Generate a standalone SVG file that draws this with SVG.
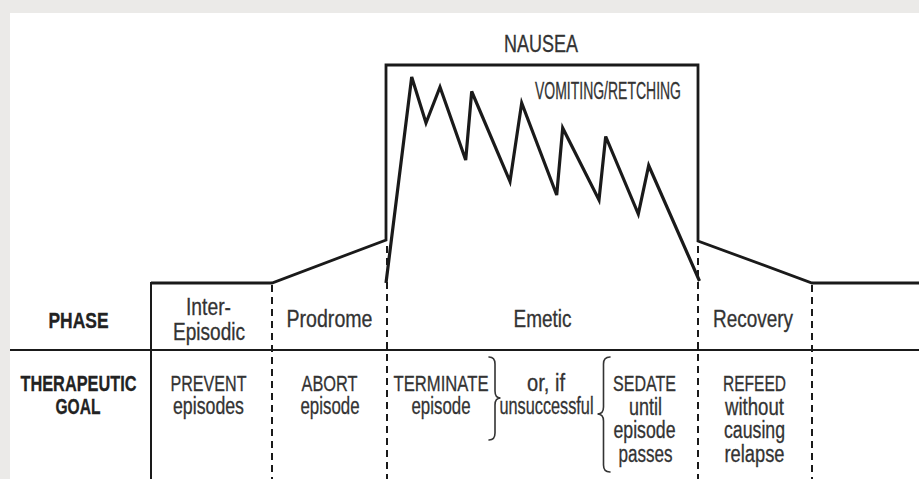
<svg xmlns="http://www.w3.org/2000/svg" width="919" height="479" viewBox="0 0 919 479">
<style>
.t{font-family:"Liberation Sans",Arial,sans-serif;font-size:23px;fill:#333;stroke:#333;stroke-width:0.3;text-anchor:middle}
.u{font-size:22px}
.b{font-weight:bold;fill:#222;stroke:#222;font-size:22px}
.ln{fill:none;stroke:#1a1a1a;stroke-linejoin:miter;stroke-linecap:butt}
.dash{fill:none;stroke:#1a1a1a;stroke-width:2;stroke-dasharray:7 5}
.br{fill:none;stroke:#333;stroke-width:1.6;stroke-linecap:round}
</style>
<rect x="0" y="0" width="919" height="479" fill="#ebeae8"/>
<rect x="10" y="13" width="909" height="466" fill="#ffffff"/>

<g id="connectors">
  <polyline class="ln" stroke-width="2.8" points="151,283 272,283 386,240 386,65 698,65 698,241 812,283 919,283"/>
  <line class="ln" stroke-width="2" x1="151" y1="282" x2="151" y2="479"/>
  <line class="ln" stroke-width="2" x1="10" y1="350" x2="919" y2="350"/>
  <line class="dash" x1="272" y1="285" x2="272" y2="479"/>
  <line class="dash" x1="387" y1="246" x2="387" y2="479"/>
  <line class="dash" x1="698" y1="246" x2="698" y2="479"/>
  <line class="dash" x1="812" y1="285" x2="812" y2="479"/>
  <polyline id="vomiting-curve" class="ln" stroke-width="3.2" points="386,283 411.7,77 426,123 440,87 465.7,160 471.7,91.5 510,181.5 521.7,103 556.7,195 562.7,128 599,200 605.7,136.5 638.3,214 648.7,165.5 699.5,281"/>
  <path class="br" d="M489,357 Q495,357 495,364 L495,391 Q495,398 500.5,398 Q495,398 495,405 L495,433 Q495,440 489,440"/>
  <path class="br" d="M610,357 Q603.5,357 603.5,364 L603.5,407 Q603.5,414 597.5,414 Q603.5,414 603.5,421 L603.5,465 Q603.5,472 610,472"/>
</g>

<g id="nausea">
  <text class="t" x="541" y="52" font-size="22" textLength="74" lengthAdjust="spacingAndGlyphs">NAUSEA</text>
</g>
<g id="vomiting">
  <text class="t" x="608" y="98.5" font-size="17.5" textLength="146" lengthAdjust="spacingAndGlyphs">VOMITING/RETCHING</text>
</g>

<g id="row-labels">
  <text class="t b" x="78.5" y="327.5" textLength="60" lengthAdjust="spacingAndGlyphs">PHASE</text>
  <text class="t b" x="78.5" y="390.5" textLength="116" lengthAdjust="spacingAndGlyphs">THERAPEUTIC</text>
  <text class="t b" x="78" y="414" textLength="45" lengthAdjust="spacingAndGlyphs">GOAL</text>
</g>

<g id="inter-episodic">
  <text class="t" x="208.5" y="315" textLength="45" lengthAdjust="spacingAndGlyphs">Inter-</text>
  <text class="t" x="209" y="340" textLength="72" lengthAdjust="spacingAndGlyphs">Episodic</text>
  <text class="t u" x="208.5" y="390.5" textLength="76" lengthAdjust="spacingAndGlyphs">PREVENT</text>
  <text class="t" x="208.5" y="414" textLength="71" lengthAdjust="spacingAndGlyphs">episodes</text>
</g>

<g id="prodrome">
  <text class="t" x="329.5" y="326.7" textLength="86" lengthAdjust="spacingAndGlyphs">Prodrome</text>
  <text class="t u" x="329.5" y="390.5" textLength="56" lengthAdjust="spacingAndGlyphs">ABORT</text>
  <text class="t" x="330" y="414" textLength="59" lengthAdjust="spacingAndGlyphs">episode</text>
</g>

<g id="emetic">
  <text class="t" x="542.5" y="326.7" textLength="58" lengthAdjust="spacingAndGlyphs">Emetic</text>
  <text class="t u" x="441" y="390.5" textLength="95" lengthAdjust="spacingAndGlyphs">TERMINATE</text>
  <text class="t" x="441" y="414" textLength="59" lengthAdjust="spacingAndGlyphs">episode</text>
  <text class="t" x="546" y="390.5" textLength="38" lengthAdjust="spacingAndGlyphs">or, if</text>
  <text class="t" x="546.5" y="414" textLength="94" lengthAdjust="spacingAndGlyphs">unsuccessful</text>
  <text class="t u" x="644.5" y="390.5" textLength="63" lengthAdjust="spacingAndGlyphs">SEDATE</text>
  <text class="t" x="645.5" y="414.5" textLength="33" lengthAdjust="spacingAndGlyphs">until</text>
  <text class="t" x="644.5" y="438" textLength="62" lengthAdjust="spacingAndGlyphs">episode</text>
  <text class="t" x="645.5" y="461.5" textLength="54" lengthAdjust="spacingAndGlyphs">passes</text>
</g>

<g id="recovery">
  <text class="t" x="753" y="326.7" textLength="80" lengthAdjust="spacingAndGlyphs">Recovery</text>
  <text class="t u" x="754.5" y="390.5" textLength="63" lengthAdjust="spacingAndGlyphs">REFEED</text>
  <text class="t" x="754.5" y="414.5" textLength="59" lengthAdjust="spacingAndGlyphs">without</text>
  <text class="t" x="754.5" y="438" textLength="61" lengthAdjust="spacingAndGlyphs">causing</text>
  <text class="t" x="754.5" y="461.5" textLength="60" lengthAdjust="spacingAndGlyphs">relapse</text>
</g>
</svg>
